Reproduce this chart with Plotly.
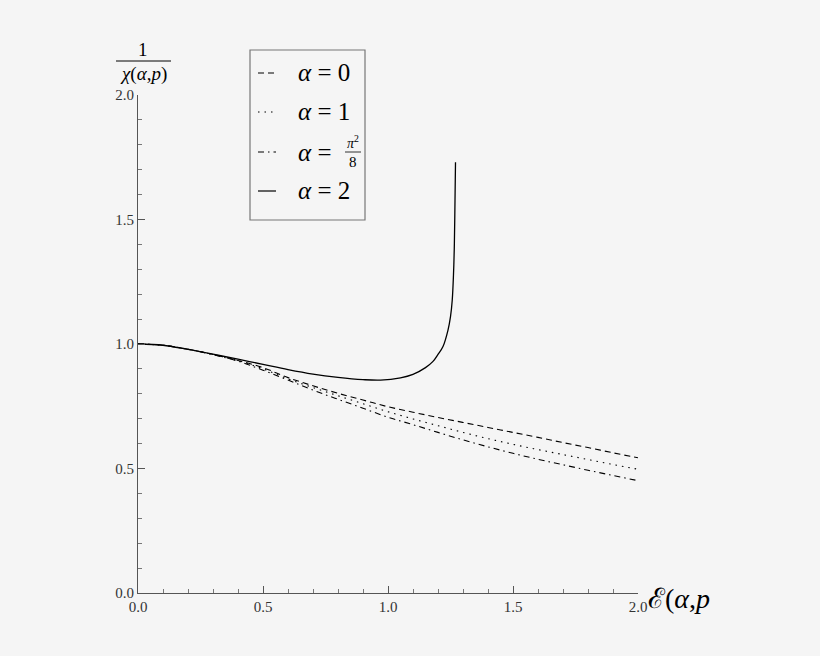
import plotly.graph_objects as go

# === Data ===
x_low = [0.0, 0.1, 0.2, 0.3, 0.4, 0.5, 0.6, 0.7, 0.8, 0.9, 1.0,
         1.1, 1.2, 1.3, 1.4, 1.5, 1.6, 1.7, 1.8, 1.9, 2.0]
y_a0 = [1.0, 0.995, 0.979, 0.958, 0.934, 0.905, 0.865, 0.832, 0.802, 0.775, 0.748,
        0.726, 0.705, 0.685, 0.665, 0.645, 0.625, 0.604, 0.584, 0.563, 0.543]
y_a1 = [1.0, 0.995, 0.979, 0.958, 0.933, 0.900, 0.860, 0.825, 0.792, 0.760, 0.728,
        0.699, 0.672, 0.645, 0.620, 0.597, 0.576, 0.556, 0.536, 0.516, 0.497]
y_api = [1.0, 0.995, 0.979, 0.957, 0.931, 0.895, 0.855, 0.815, 0.778, 0.742, 0.706,
         0.676, 0.645, 0.615, 0.587, 0.561, 0.537, 0.515, 0.493, 0.472, 0.451]

x_a2 = [0.0, 0.1, 0.2, 0.3, 0.4, 0.5, 0.6, 0.7, 0.8, 0.9, 0.97, 1.05, 1.1,
        1.15, 1.18, 1.2, 1.22, 1.24, 1.25, 1.257, 1.262, 1.265, 1.267, 1.27]
y_a2 = [1.0, 0.995, 0.978, 0.959, 0.939, 0.918, 0.897, 0.879, 0.866, 0.857, 0.855, 0.864, 0.878,
        0.905, 0.93, 0.958, 0.99, 1.056, 1.11, 1.177, 1.28, 1.38, 1.5, 1.73]

font_serif = "Liberation Serif, Times New Roman, serif"

fig = go.Figure()
line_kw = dict(color="black", width=1.1)
fig.add_trace(go.Scatter(x=x_low, y=y_a0, mode="lines", line=dict(dash="6px,4px", **line_kw), line_shape="spline"))
fig.add_trace(go.Scatter(x=x_low, y=y_a1, mode="lines", line=dict(dash="1.5px,5px", **line_kw), line_shape="spline"))
fig.add_trace(go.Scatter(x=x_low, y=y_api, mode="lines", line=dict(dash="6px,4px,1.5px,4px", **line_kw), line_shape="spline"))
fig.add_trace(go.Scatter(x=x_a2, y=y_a2, mode="lines", line=dict(color="black", width=1.3), line_shape="spline"))

axis_kw = dict(
    range=[0, 2], showgrid=False, zeroline=False, showline=True, linecolor="#555", linewidth=1,
    ticks="inside", ticklen=7, tickcolor="#555", dtick=0.5, tickformat=".1f",
    tickfont=dict(family=font_serif, size=15, color="#333"),
    minor=dict(ticks="inside", ticklen=4, tickcolor="#777", dtick=0.1),
)
fig.update_xaxes(**axis_kw)
fig.update_yaxes(**axis_kw)


def px(x):
    return (x - 138) / 500


def py_(y):
    return (593 - y) / 498


# y-axis title as a fraction 1 / chi(alpha,p), x-axis title at the right end
ann = [
    dict(x=px(143), y=py_(50), text="1", font=dict(size=19)),
    dict(x=px(143), y=py_(74), text="<i>χ</i>(<i>α</i>,<i>p</i>)", font=dict(size=19)),
    dict(x=px(646), y=py_(598), text="ℰ(<i>α</i>,<i>p</i>", font=dict(size=28), xanchor="left"),
]
# custom legend texts
leg_rows = [73, 112, 152, 191]
leg_txt = ["<i>α</i> = 0", "<i>α</i> = 1", "<i>α</i> = ", "<i>α</i> = 2"]
for yy, t in zip(leg_rows, leg_txt):
    ann.append(dict(x=px(296), y=py_(yy), text=t, xanchor="left", font=dict(size=25)))
ann.append(dict(x=px(353), y=py_(142), text="<i>π</i><sup>2</sup>", font=dict(size=14)))
ann.append(dict(x=px(353), y=py_(162), text="8", font=dict(size=15)))
for a in ann:
    a.setdefault("xanchor", "center")
    a.update(xref="paper", yref="paper", showarrow=False, yanchor="middle")
    a["font"].update(family=font_serif, color="black")

shapes = [
    dict(type="line", x0=px(116), x1=px(171), y0=py_(61), y1=py_(61), line=dict(color="black", width=1)),
    dict(type="rect", x0=px(250), x1=px(365), y0=py_(220), y1=py_(50), line=dict(color="#777", width=1.2)),
    dict(type="line", x0=px(345), x1=px(361), y0=py_(152), y1=py_(152), line=dict(color="black", width=0.8)),
]
samples = ["6px,4px", "1.5px,5px", "6px,4px,1.5px,4px", "solid"]
for yy, d in zip(leg_rows, samples):
    shapes.append(dict(type="line", x0=px(258), x1=px(276), y0=py_(yy), y1=py_(yy),
                       line=dict(color="black", width=1.2, dash=d)))
for s in shapes:
    s.update(xref="paper", yref="paper")

fig.update_layout(
    width=820, height=656, showlegend=False,
    font=dict(family=font_serif),
    margin=dict(l=138, r=182, t=95, b=63),
    paper_bgcolor="#f5f5f5", plot_bgcolor="#f5f5f5",
    annotations=ann, shapes=shapes,
)

fig.write_html("out.html", config={"displayModeBar": False},
               post_script="document.body.style.margin='0';document.body.style.background='#f5f5f5';")
